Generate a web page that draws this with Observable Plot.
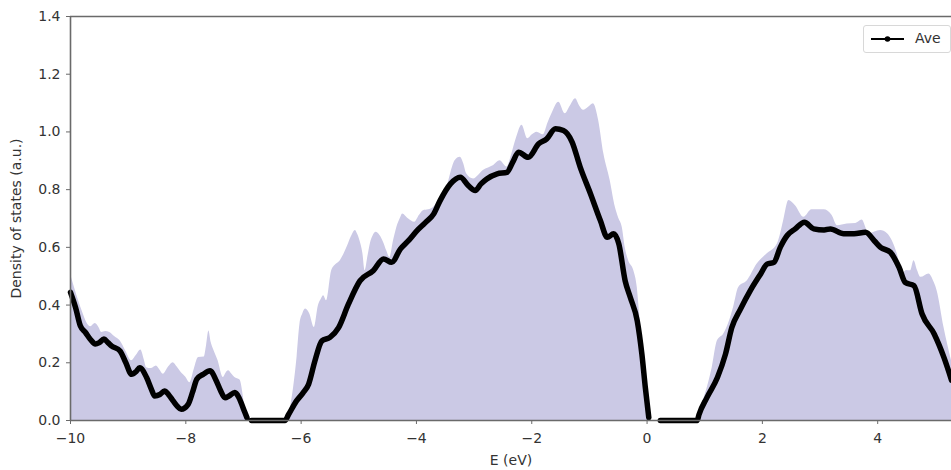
<!DOCTYPE html>
<html><head><meta charset="utf-8">
<script src="https://cdn.jsdelivr.net/npm/d3@7"></script>
<script src="https://cdn.jsdelivr.net/npm/@observablehq/plot@0.6"></script>
<style>
body{margin:0;background:#fff;overflow:hidden;font-family:"DejaVu Sans",sans-serif}
#wrap{position:relative;width:951px;height:470px;overflow:hidden}
#legend{position:absolute;left:863px;top:25px;width:88px;height:28px;border:1px solid #d8d8d8;border-radius:3px;background:rgba(255,255,255,0.85);box-sizing:border-box;font-family:"DejaVu Sans",sans-serif;font-size:14px;color:#333}
#legend svg{position:absolute;left:0;top:0}
#legend span{position:absolute;left:51px;top:4px}
</style></head><body>
<div id="wrap"><div id="chart"></div>
<div id="legend"><svg width="48" height="26"><line x1="7" y1="13" x2="40" y2="13" stroke="#000" stroke-width="2.2"/><circle cx="23.5" cy="13" r="2.8" fill="#000"/></svg><span>Ave</span></div>
</div>
<script>
// Shaded DOS envelope
const fillE = [-10,-9.93,-9.86,-9.79,-9.72,-9.65,-9.57,-9.5,-9.46,-9.39,-9.32,-9.23,-9.14,-9.04,-8.94,-8.86,-8.78,-8.72,-8.68,-8.6,-8.51,-8.45,-8.39,-8.3,-8.22,-8.15,-8.08,-8.0,-7.93,-7.85,-7.78,-7.68,-7.64,-7.6,-7.56,-7.52,-7.44,-7.35,-7.3,-7.26,-7.2,-7.15,-7.06,-7.0,-6.97,-6.93,
  -6.24,-6.18,-6.13,-6.07,-6.02,-5.97,-5.92,-5.85,-5.77,-5.7,-5.65,-5.61,-5.56,-5.47,-5.4,-5.32,-5.25,-5.18,-5.12,-5.06,-5.02,-4.98,-4.93,-4.89,-4.84,-4.8,-4.75,-4.7,-4.63,-4.57,-4.52,-4.46,-4.4,-4.34,-4.28,-4.24,-4.14,-4.03,-3.95,-3.88,-3.79,-3.7,-3.59,-3.47,-3.4,-3.33,-3.24,-3.18,-3.13,-3.01,-2.92,-2.84,-2.75,-2.66,-2.55,-2.43,-2.35,-2.26,-2.17,-2.07,-1.99,-1.91,-1.8,-1.72,-1.65,-1.53,-1.42,-1.33,-1.24,-1.17,-1.1,-1.02,-0.93,-0.84,-0.75,-0.64,-0.55,-0.49,-0.43,-0.38,-0.32,-0.23,-0.17,-0.13,-0.09,-0.04,0.0,0.06,
  0.85,0.88,1.01,1.13,1.22,1.33,1.42,1.5,1.59,1.74,1.91,2.08,2.26,2.32,2.37,2.46,2.57,2.72,2.86,3.07,3.21,3.3,3.47,3.62,3.73,3.85,4.05,4.17,4.34,4.43,4.5,4.57,4.63,4.69,4.75,4.89,4.98,5.03,5.15,5.28];
const fillDos = [0.508,0.46,0.415,0.375,0.34,0.325,0.336,0.32,0.305,0.308,0.305,0.29,0.276,0.24,0.207,0.225,0.244,0.21,0.183,0.18,0.189,0.175,0.16,0.185,0.2,0.185,0.166,0.15,0.131,0.18,0.218,0.22,0.26,0.31,0.27,0.247,0.207,0.149,0.165,0.172,0.16,0.149,0.14,0.08,0.03,0,
  0,0.05,0.114,0.22,0.334,0.37,0.386,0.369,0.322,0.398,0.42,0.432,0.415,0.519,0.54,0.554,0.58,0.612,0.64,0.658,0.645,0.623,0.58,0.519,0.57,0.612,0.64,0.652,0.64,0.617,0.59,0.565,0.62,0.669,0.7,0.716,0.699,0.687,0.71,0.727,0.73,0.739,0.77,0.808,0.86,0.9,0.912,0.89,0.855,0.837,0.85,0.866,0.875,0.884,0.9,0.878,0.92,0.982,1.023,0.976,0.99,0.999,0.99,1.03,1.063,1.103,1.063,1.09,1.115,1.09,1.075,1.085,1.098,1.04,0.924,0.832,0.739,0.7,0.669,0.6,0.554,0.519,0.461,0.37,0.276,0.17,0.08,0,
  0,0.02,0.091,0.183,0.276,0.3,0.34,0.392,0.461,0.484,0.542,0.577,0.612,0.65,0.693,0.762,0.745,0.704,0.73,0.73,0.71,0.675,0.681,0.683,0.695,0.647,0.658,0.647,0.577,0.508,0.52,0.519,0.554,0.52,0.496,0.508,0.478,0.45,0.322,0.207];

// "Ave" curve (null = no data)
const aveE = [-10,-9.91,-9.83,-9.74,-9.65,-9.57,-9.5,-9.42,-9.35,-9.29,-9.14,-9.04,-8.94,-8.86,-8.8,-8.68,-8.6,-8.54,-8.45,-8.37,-8.3,-8.22,-8.15,-8.08,-7.96,-7.88,-7.81,-7.7,-7.58,-7.47,-7.4,-7.32,-7.25,-7.15,-7.08,-7.03,-6.98,-6.94,-6.9,
  -6.86,-6.28,-6.22,-6.08,-5.97,-5.87,-5.76,-5.64,-5.5,-5.35,-5.18,-4.98,-4.75,-4.57,-4.43,-4.28,-4.13,-3.99,-3.85,-3.7,-3.59,-3.41,-3.24,-3.1,-2.98,-2.88,-2.78,-2.6,-2.43,-2.33,-2.23,-2.06,-1.88,-1.74,-1.59,-1.45,-1.3,-1.16,-0.98,-0.81,-0.69,-0.58,-0.49,-0.38,-0.29,-0.17,-0.09,-0.03,0.03,0.1,
  0.23,0.87,0.9,1.04,1.22,1.36,1.47,1.62,1.79,1.97,2.08,2.2,2.31,2.43,2.57,2.73,2.89,3.07,3.18,3.41,3.59,3.79,3.94,4.05,4.22,4.37,4.48,4.63,4.77,4.98,5.15,5.28];
const aveDos = [0.444,0.39,0.328,0.305,0.28,0.265,0.27,0.282,0.27,0.259,0.241,0.2,0.16,0.17,0.183,0.149,0.11,0.085,0.09,0.102,0.09,0.068,0.05,0.039,0.056,0.1,0.143,0.16,0.172,0.137,0.105,0.079,0.085,0.097,0.08,0.056,0.03,0.01,null,
  0,0,0.02,0.068,0.095,0.126,0.207,0.276,0.288,0.322,0.403,0.484,0.519,0.56,0.548,0.594,0.625,0.658,0.685,0.716,0.762,0.82,0.843,0.814,0.797,0.82,0.837,0.855,0.86,0.895,0.93,0.912,0.959,0.976,1.011,1.005,0.965,0.878,0.785,0.693,0.635,0.647,0.612,0.484,0.426,0.345,0.23,0.114,0.01,null,
  0,0,0.02,0.08,0.149,0.23,0.322,0.386,0.45,0.508,0.542,0.548,0.6,0.641,0.664,0.687,0.664,0.66,0.664,0.647,0.647,0.652,0.623,0.6,0.583,0.531,0.478,0.467,0.369,0.3,0.218,0.14];

const xTicks = [-10,-8,-6,-4,-2,0,2,4];
const yTicks = [0,0.2,0.4,0.6,0.8,1.0,1.2,1.4];
const xDomain = [-10, 5.28];
const yDomain = [0, 1.4];

const fillRows = fillE.map((e,i)=>({E:e, v:fillDos[i]}));
const aveRows = aveE.map((e,i)=>({E:e, v:aveDos[i]}));
const minus = d => (d < 0 ? "\u2212" + Math.abs(d) : String(d));
const spine = "#6a6a6a";

const chart = Plot.plot({
  width: 951, height: 470,
  marginLeft: 70, marginRight: 0, marginTop: 16, marginBottom: 50,
  style: {fontFamily: "DejaVu Sans, sans-serif", fontSize: "14px", color: "#333", background: "white"},
  x: {domain: xDomain},
  y: {domain: yDomain},
  marks: [
    Plot.areaY(fillRows, {x: "E", y: "v", fill: "#cbc9e5", curve: "monotone-x"}),
    Plot.line(aveRows, {x: "E", y: "v", stroke: "#000", strokeWidth: 5.5, strokeLinejoin: "round", strokeLinecap: "round", curve: "monotone-x"}),
    Plot.ruleX([xDomain[0]], {stroke: spine, strokeWidth: 1.6}),
    Plot.ruleY(yDomain, {stroke: spine, strokeWidth: 1.6}),
    Plot.axisX({ticks: xTicks, tickFormat: minus, tickSize: 4, tickPadding: 9, stroke: spine, label: "E (eV)", labelAnchor: "center", labelArrow: "none", labelOffset: 44}),
    Plot.axisY({ticks: yTicks, tickFormat: d3.format(".1f"), tickSize: 4, tickPadding: 6, stroke: spine, label: "Density of states (a.u.)", labelAnchor: "center", labelArrow: "none", labelOffset: 59})
  ]
});
document.getElementById("chart").appendChild(chart);
</script>
</body></html>
